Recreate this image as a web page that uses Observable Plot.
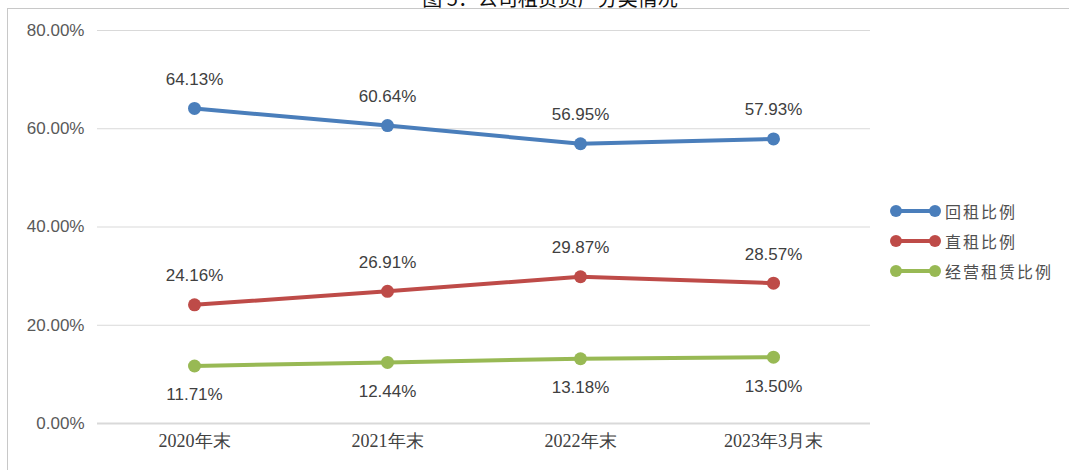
<!DOCTYPE html>
<html><head><meta charset="utf-8">
<script src="https://cdn.jsdelivr.net/npm/d3@7"></script>
<script src="https://cdn.jsdelivr.net/npm/@observablehq/plot@0.6"></script>
<style>
html,body{margin:0;padding:0;background:#fff;overflow:hidden;width:1069px;height:470px;}
#wrap{position:relative;width:1069px;height:470px;}
#frame{position:absolute;left:7px;top:8px;width:1100px;height:500px;border:1.5px solid #c8c8c8;box-sizing:border-box;pointer-events:none;}
#title{position:absolute;left:0;width:1100px;top:-17px;text-align:center;font:20px "Noto Sans CJK SC";color:#111;}
#legend{position:absolute;left:889px;top:196px;font:16px "Noto Sans CJK SC";color:#505050;}
.row{display:flex;align-items:center;height:30px;}
</style></head>
<body><div id="wrap"><div id="title">图 5：公司租赁资产分类情况</div><div id="frame"></div><div id="chart"></div><div id="legend"></div></div>
<script>
const categories = ["2020年末", "2021年末", "2022年末", "2023年3月末"];
const seriesNames = ["回租比例", "直租比例", "经营租赁比例"];
const huizu = [0.6413, 0.6064, 0.5695, 0.5793];
const zhizu = [0.2416, 0.2691, 0.2987, 0.2857];
const jingying = [0.1171, 0.1244, 0.1318, 0.1350];
const yTicks = [0, 0.2, 0.4, 0.6, 0.8];
const colors = ["#4a7ebb", "#be4b48", "#98b954"];

const seriesValues = [huizu, zhizu, jingying];
const data = [];
seriesValues.forEach((vals, si) => vals.forEach((v, i) => data.push({series: seriesNames[si], cat: categories[i], value: v, si})));
const fmt = d3.format(".2%");

const chart = Plot.plot({
  width: 1069, height: 470,
  marginLeft: 97, marginRight: 199, marginTop: 30, marginBottom: 47,
  style: {fontFamily: "Liberation Sans", background: "transparent"},
  x: {type: "point", domain: categories, padding: 0.5, label: null},
  y: {domain: [0, 0.8], label: null},
  color: {domain: seriesNames, range: colors},
  marks: [
    Plot.ruleY(yTicks, {stroke: "#d9d9d9", strokeWidth: 1.2}),
    Plot.ruleY([0], {stroke: "#d9d9d9", strokeWidth: 2}),
    Plot.axisY({ticks: yTicks, tickFormat: fmt, tickSize: 0, tickPadding: 13, fontSize: 17, fill: "#595959", fontFamily: "Liberation Sans", label: null}),
    Plot.axisX({tickSize: 0, tickPadding: 11, fontSize: 18, fill: "#404040", fontFamily: "Liberation Serif", label: null}),
    Plot.line(data, {x: "cat", y: "value", z: "series", stroke: "series", strokeWidth: 4}),
    Plot.dot(data, {x: "cat", y: "value", fill: "series", r: 6.5}),
    Plot.text(data.filter(d => d.si < 2), {x: "cat", y: "value", text: d => fmt(d.value), dy: -29, fontSize: 17, fill: "#404040", fontFamily: "Liberation Sans"}),
    Plot.text(data.filter(d => d.si === 2), {x: "cat", y: "value", text: d => fmt(d.value), dy: 29, fontSize: 17, fill: "#404040", fontFamily: "Liberation Sans"})
  ]
});
chart.style.position = "absolute";
chart.style.left = "0px";
chart.style.top = "0px";
document.getElementById("chart").appendChild(chart);

const legend = document.getElementById("legend");
seriesNames.forEach((name, i) => {
  const row = document.createElement("div");
  row.className = "row";
  row.innerHTML = `<svg width="54" height="16" style="margin-right:2px"><line x1="7" x2="46" y1="8" y2="8" stroke="${colors[i]}" stroke-width="4"/><circle cx="7" cy="8" r="6" fill="${colors[i]}"/><circle cx="46" cy="8" r="6" fill="${colors[i]}"/></svg><span style="letter-spacing:2px">${name}</span>`;
  legend.appendChild(row);
});
</script></body></html>
